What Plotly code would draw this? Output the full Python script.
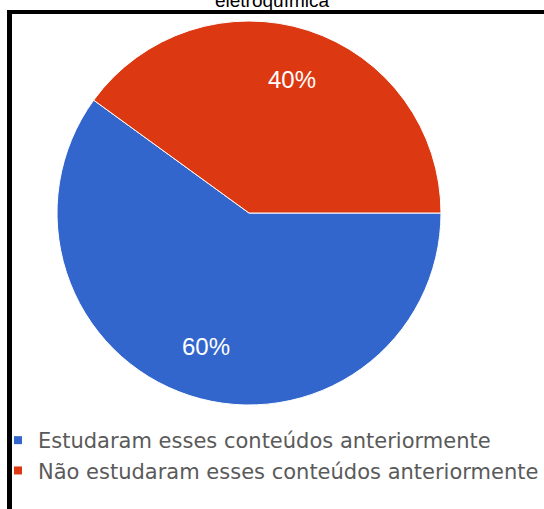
import math
import plotly.graph_objects as go

labels = ["Estudaram esses conteúdos anteriormente", "Não estudaram esses conteúdos anteriormente"]
values = [60, 40]
colors = ["#3366CC", "#DC3912"]
title_text = "eletroquímica"

W, H = 544, 509
cx, cy, r = 249, 213, 192
label_r = 0.73

fig = go.Figure()
fig.add_trace(go.Pie(
    labels=labels,
    values=values,
    sort=False,
    direction="counterclockwise",
    rotation=90,
    marker=dict(colors=colors, line=dict(color="white", width=1)),
    textinfo="none",
    showlegend=False,
    domain=dict(x=[(cx - r) / W, (cx + r) / W], y=[1 - (cy + r) / H, 1 - (cy - r) / H]),
    hoverinfo="label+percent",
))

# legend entries with small square swatches
for lab, col in zip(labels, colors):
    fig.add_trace(go.Scatter(
        x=[None], y=[None], mode="markers", name=lab,
        marker=dict(symbol="square", size=8, color=col),
        hoverinfo="skip",
    ))

# percentage labels placed at each slice's mid-angle (slices run clockwise from 3 o'clock)
total = sum(values)
annotations = []
start = 0.0
for v in values:
    span = 360.0 * v / total
    mid = math.radians(start - span / 2)
    start -= span
    annotations.append(dict(
        text=f"{round(100 * v / total)}%", showarrow=False,
        xref="paper", yref="paper",
        x=(cx + label_r * r * math.cos(mid)) / W,
        y=1 - (cy - label_r * r * math.sin(mid)) / H,
        xanchor="center", yanchor="middle",
        font=dict(color="white", size=24, family="Arial"),
    ))

fig.update_layout(
    width=W, height=H,
    margin=dict(l=0, r=0, t=0, b=0, autoexpand=False),
    paper_bgcolor="white",
    plot_bgcolor="rgba(0,0,0,0)",
    xaxis=dict(visible=False),
    yaxis=dict(visible=False),
    title=dict(text=title_text, x=0.5, xanchor="center", y=1.0, yref="container",
               yanchor="middle", font=dict(family="Arial", size=19, color="black")),
    showlegend=True,
    legend=dict(x=-2 / W, y=1 - 420 / H, xanchor="left", yanchor="top",
                orientation="v", bgcolor="rgba(0,0,0,0)",
                font=dict(family="DejaVu Sans", size=21, color="#5a5a5a"),
                itemwidth=30, tracegroupgap=0),
    annotations=annotations,
    shapes=[
        dict(type="line", xref="paper", yref="paper", x0=9.5 / W, x1=9.5 / W,
             y0=0, y1=1 - 10 / H, line=dict(color="black", width=5)),
        dict(type="line", xref="paper", yref="paper", x0=7 / W, x1=1,
             y0=1 - 12 / H, y1=1 - 12 / H, line=dict(color="black", width=4)),
    ],
)

fig.write_html("out.html")
